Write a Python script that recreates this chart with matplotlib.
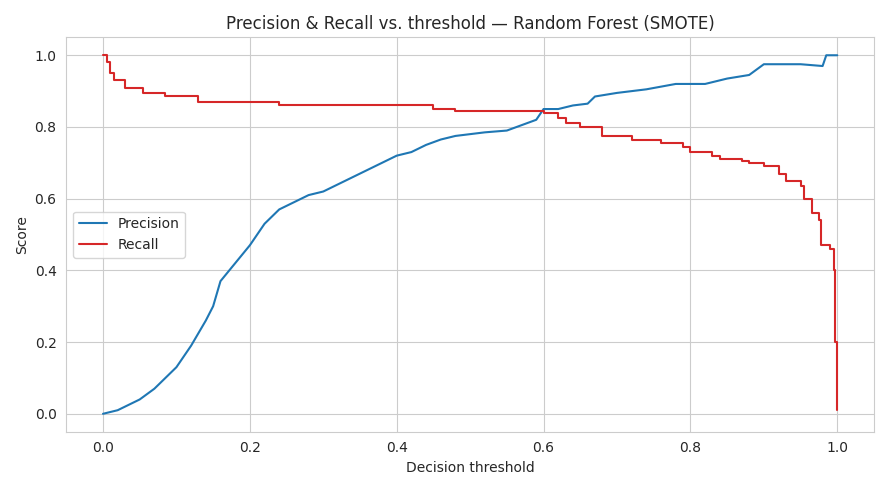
import matplotlib
matplotlib.use("Agg")
import matplotlib.pyplot as plt
import seaborn as sns

sns.set_style("whitegrid")

prec_t = [0,0.02,0.05,0.07,0.1,0.12,0.14,0.15,0.16,0.18,0.2,0.22,0.24,0.26,0.28,0.3,0.32,0.35,0.38,0.4,0.42,0.44,0.46,0.48,0.5,0.52,0.55,0.57,0.59,0.6,0.62,0.64,0.66,0.67,0.7,0.74,0.78,0.82,0.85,0.88,0.9,0.95,0.98,0.985,1.0]
prec_v = [0,0.01,0.04,0.07,0.13,0.19,0.26,0.3,0.37,0.42,0.47,0.53,0.57,0.59,0.61,0.62,0.64,0.67,0.7,0.72,0.73,0.75,0.765,0.775,0.78,0.785,0.79,0.805,0.82,0.85,0.85,0.86,0.865,0.885,0.895,0.905,0.92,0.92,0.935,0.945,0.975,0.975,0.97,1.0,1.0]
rec_t = [0,0.005,0.01,0.015,0.03,0.055,0.085,0.13,0.24,0.45,0.48,0.6,0.62,0.63,0.65,0.68,0.72,0.76,0.79,0.8,0.83,0.84,0.87,0.88,0.9,0.92,0.93,0.95,0.955,0.965,0.975,0.978,0.99,0.995,0.997,1.0]
rec_v = [1.0,0.98,0.95,0.93,0.91,0.895,0.885,0.87,0.86,0.85,0.845,0.84,0.825,0.81,0.8,0.775,0.765,0.755,0.745,0.73,0.72,0.71,0.705,0.7,0.69,0.67,0.65,0.635,0.6,0.56,0.54,0.47,0.46,0.4,0.2,0.01]

fig, ax = plt.subplots(figsize=(8.89, 4.9), dpi=100)
ax.plot(prec_t, prec_v, color="#1f77b4", lw=1.5, label="Precision")
ax.plot(rec_t, rec_v, color="#d62728", lw=1.5, label="Recall", drawstyle="steps-post")
ax.set_title("Precision & Recall vs. threshold — Random Forest (SMOTE)")
ax.set_xlabel("Decision threshold")
ax.set_ylabel("Score")
ax.set_xlim(-0.05, 1.05)
ax.set_ylim(-0.05, 1.05)
ax.legend(loc="center left")
fig.tight_layout()
fig.savefig("out.png")
